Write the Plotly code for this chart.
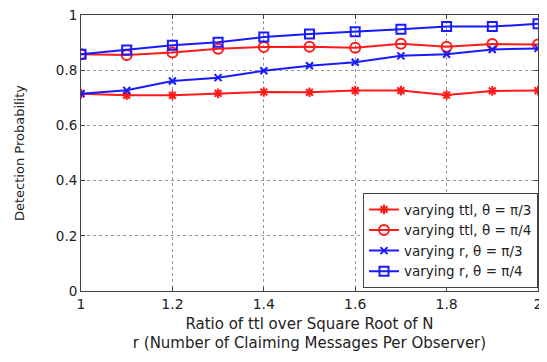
import plotly.graph_objects as go

x_vals = [1.0, 1.1, 1.2, 1.3, 1.4, 1.5, 1.6, 1.7, 1.8, 1.9, 2.0]
ttl_pi3 = [0.715, 0.709, 0.709, 0.716, 0.721, 0.720, 0.726, 0.726, 0.710, 0.725, 0.726]
ttl_pi4 = [0.858, 0.855, 0.864, 0.878, 0.884, 0.885, 0.881, 0.896, 0.885, 0.895, 0.893]
r_pi3 = [0.715, 0.727, 0.761, 0.773, 0.798, 0.816, 0.829, 0.852, 0.858, 0.875, 0.879]
r_pi4 = [0.858, 0.873, 0.890, 0.901, 0.920, 0.931, 0.939, 0.948, 0.958, 0.958, 0.968]

names = ["varying ttl, \u03b8 = \u03c0/3", "varying ttl, \u03b8 = \u03c0/4",
         "varying r, \u03b8 = \u03c0/3", "varying r, \u03b8 = \u03c0/4"]
series = [ttl_pi3, ttl_pi4, r_pi3, r_pi4]
colors = ["#ff1a1a", "#ff1a1a", "#1a1aff", "#1a1aff"]
symbols = ["asterisk-open", "circle-open", "x-thin-open", "square-open"]
sizes = [8, 10, 7, 9]

fig = go.Figure()
for nm, ys, c, s, sz in zip(names, series, colors, symbols, sizes):
    fig.add_trace(go.Scatter(
        x=x_vals, y=ys, mode="lines+markers", name=nm,
        line=dict(color=c, width=2),
        marker=dict(symbol=s, size=sz, color=c, line=dict(color=c, width=2)),
    ))

font = "DejaVu Sans, Arial, sans-serif"
axis_common = dict(
    showline=True, linecolor="#444444", linewidth=1, mirror="ticks",
    ticks="inside", ticklen=4, tickcolor="#444444",
    showgrid=True, gridcolor="#999999", griddash="dot", gridwidth=1,
    zeroline=False, automargin=False, ticklabeloverflow="allow",
)
fig.update_layout(
    width=539, height=354,
    margin=dict(l=73, r=9, t=7, b=71),
    paper_bgcolor="white", plot_bgcolor="white",
    font=dict(family=font, size=12, color="#222222"),
    showlegend=True,
    legend=dict(x=1, y=0.01, xanchor="right", yanchor="bottom",
                bgcolor="white", bordercolor="#444444", borderwidth=1,
                font=dict(size=13.5, family=font, color="#222222"), tracegroupgap=0,
                itemwidth=30),
    xaxis=dict(range=[1, 2], tickvals=[1, 1.2, 1.4, 1.6, 1.8, 2],
               ticktext=["1", "1.2", "1.4", "1.6", "1.8", "2"],
               tickfont=dict(size=14, color="#222222"),
               title=dict(text="Ratio of ttl over Square Root of N<br>r (Number of Claiming Messages Per Observer)",
                          font=dict(size=15), standoff=7),
               **axis_common),
    yaxis=dict(range=[0, 1], tickvals=[0, 0.2, 0.4, 0.6, 0.8, 1],
               ticktext=["0", "0.2", "0.4", "0.6", "0.8", "1"],
               tickfont=dict(size=13.5, color="#222222"),
               title=dict(text="Detection Probability", font=dict(size=13), standoff=28),
               **axis_common),
)

fig.write_html("out.html")
